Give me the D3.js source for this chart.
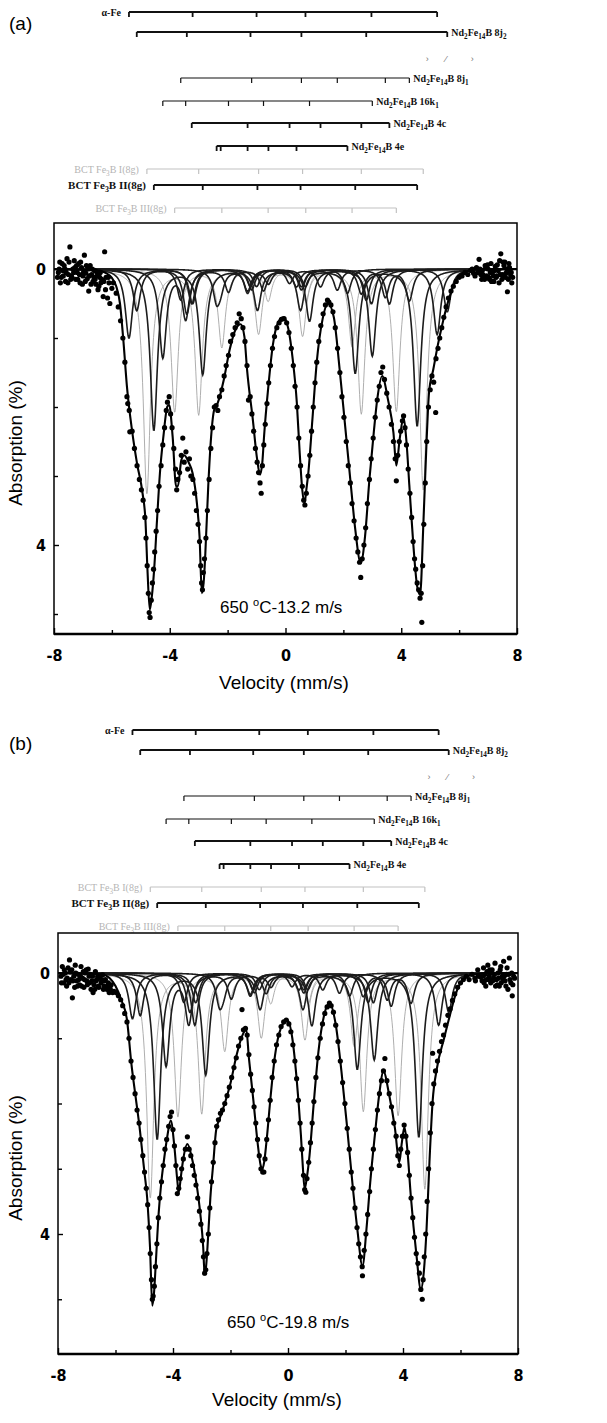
<!DOCTYPE html>
<html>
<head>
<meta charset="utf-8">
<script src="https://cdn.jsdelivr.net/npm/d3@7"></script>
<style>
  body { margin: 0; background: #fff; }
  svg { font-family: "Liberation Sans", Arial, sans-serif; }
</style>
</head>
<body>
<svg id="chart"></svg>
<script>
// Mossbauer subspectra: six line positions (mm/s)
const sites = ["aFe", "j2", "j1", "k1", "c", "e", "bct1", "bct2", "bct3"];
const siteLabels = ["α-Fe", "Nd_2Fe_14B 8j_2", "Nd_2Fe_14B 8j_1", "Nd_2Fe_14B 16k_1",
  "Nd_2Fe_14B 4c", "Nd_2Fe_14B 4e", "BCT Fe_3B I(8g)", "BCT Fe_3B  II(8g)", "BCT Fe_3B III(8g)"];
const siteLines = [
  [-5.41, -3.21, -1.0, 0.69, 2.97, 5.24],
  [-5.14, -3.41, -1.21, 0.55, 2.79, 5.59],
  [-3.62, -1.17, 0.55, 1.79, 3.45, 4.28],
  [-4.24, -3.45, -1.97, -0.76, 0.83, 3.0],
  [-3.24, -1.31, 0.14, 1.21, 2.62, 3.59],
  [-2.38, -2.24, -1.31, -0.59, 0.38, 2.14],
  [-4.79, -3.0, -0.93, 0.59, 2.62, 4.76],
  [-4.55, -2.86, -0.97, 0.52, 2.41, 4.55],
  [-3.83, -2.2, -0.6, 0.7, 2.3, 3.83]
];
// line depths (%) per site, panel (a) and (b)
const depthsA = [
  [1.0, 0.5, 0.25, 0.25, 0.5, 0.95],
  [0.6, 0.65, 0.25, 0.3, 0.45, 0.62],
  [0.45, 0.3, 0.25, 0.3, 0.4, 0.45],
  [1.27, 0.7, 0.32, 0.3, 0.75, 1.26],
  [0.5, 0.35, 0.2, 0.25, 0.35, 0.5],
  [0.42, 0.2, 0.3, 0.2, 0.25, 0.35],
  [3.25, 2.09, 0.92, 0.95, 2.08, 3.19],
  [2.33, 1.51, 0.58, 0.58, 1.5, 2.27],
  [2.07, 1.12, 0.45, 0.45, 1.1, 2.06]
];
const depthsB = [
  [0.7, 0.45, 0.25, 0.25, 0.45, 0.8],
  [0.65, 0.6, 0.25, 0.3, 0.45, 0.6],
  [0.45, 0.3, 0.25, 0.3, 0.4, 0.45],
  [1.41, 0.75, 0.38, 0.3, 0.8, 1.33],
  [0.8, 0.35, 0.2, 0.25, 0.35, 0.5],
  [0.44, 0.2, 0.3, 0.2, 0.25, 0.35],
  [3.44, 2.13, 0.97, 1.0, 2.1, 3.3],
  [2.54, 1.54, 0.54, 0.54, 1.46, 2.51],
  [2.2, 1.18, 0.45, 0.45, 1.1, 2.18]
];
const halfWidth = 0.15; // HWHM of every line, mm/s

// stray marks under the 8j2 stick
const strayMarks = [[4.9, "›"], [5.55, "⁄"], [6.45, "›"]];

// total fit, [velocity, absorption]
const fitA = [[-8, 0], [-6.5, 0.02], [-6.2, 0.06], [-6.0, 0.13], [-5.85, 0.25], [-5.72, 0.5],
  [-5.6, 1.05], [-5.48, 1.7], [-5.3, 2.35], [-5.13, 2.82], [-4.94, 3.25], [-4.84, 3.64], [-4.77, 4.36],
  [-4.69, 4.94], [-4.62, 4.75], [-4.54, 4.36], [-4.44, 3.64], [-4.34, 2.96], [-4.22, 2.43], [-4.08, 1.99],
  [-4.02, 1.97], [-3.9, 2.43], [-3.78, 3.15], [-3.72, 3.15], [-3.6, 2.77], [-3.5, 2.7], [-3.35, 2.8],
  [-3.21, 2.96], [-3.06, 3.4], [-2.97, 3.88], [-2.89, 4.7], [-2.82, 4.5], [-2.77, 4.12], [-2.67, 3.15],
  [-2.57, 2.43], [-2.47, 2.05], [-2.35, 1.95], [-2.13, 1.6], [-1.93, 1.17], [-1.73, 0.88], [-1.55, 0.8],
  [-1.42, 0.98], [-1.33, 1.45], [-1.13, 2.18], [-0.98, 2.76], [-0.88, 2.98], [-0.8, 2.8], [-0.74, 2.42],
  [-0.59, 1.69], [-0.44, 1.11], [-0.25, 0.77], [-0.07, 0.7], [0.1, 0.87], [0.25, 1.31], [0.39, 1.93],
  [0.49, 2.66], [0.58, 3.2], [0.66, 3.39], [0.72, 3.2], [0.79, 2.95], [0.93, 2.18], [1.08, 1.35],
  [1.28, 0.73], [1.47, 0.5], [1.67, 0.7], [1.87, 1.45], [2.06, 2.27], [2.26, 3.14], [2.41, 3.77],
  [2.6, 4.26], [2.75, 3.87], [2.9, 3.05], [3.05, 2.37], [3.17, 1.89], [3.34, 1.55], [3.54, 1.89],
  [3.73, 2.37], [3.83, 2.85], [3.95, 2.45], [4.08, 2.15], [4.18, 2.5], [4.28, 3.14], [4.42, 4.01],
  [4.55, 4.6], [4.65, 4.72], [4.77, 3.63], [4.86, 2.66], [4.96, 1.79], [5.11, 1.45], [5.26, 1.11],
  [5.41, 0.82], [5.6, 0.5], [5.8, 0.25], [6.0, 0.1], [6.3, 0.03], [6.8, 0], [8, 0]];

const fitB = [[-8, 0], [-6.5, 0.02], [-6.2, 0.08], [-6.0, 0.2], [-5.8, 0.41], [-5.6, 0.72], [-5.45, 1.38],
  [-5.3, 1.9], [-5.15, 2.41], [-5.0, 3.03], [-4.9, 3.44], [-4.8, 4.2], [-4.72, 5.1], [-4.66, 4.9],
  [-4.6, 4.46], [-4.5, 3.69], [-4.4, 3.18], [-4.3, 2.82], [-4.2, 2.51], [-4.08, 2.26], [-3.95, 2.67],
  [-3.85, 3.18], [-3.8, 3.36], [-3.72, 3.1], [-3.65, 2.87], [-3.5, 2.62], [-3.35, 2.82], [-3.2, 3.18],
  [-3.05, 3.69], [-2.95, 4.2], [-2.9, 4.62], [-2.85, 4.5], [-2.8, 4.2], [-2.7, 3.44], [-2.6, 2.92],
  [-2.5, 2.41], [-2.35, 2.2], [-2.2, 2.0], [-2.0, 1.69], [-1.8, 1.28], [-1.6, 0.97], [-1.45, 0.87],
  [-1.36, 1.3], [-1.2, 1.97], [-1.06, 2.59], [-0.95, 2.95], [-0.9, 3.0], [-0.83, 2.9], [-0.75, 2.59],
  [-0.6, 1.87], [-0.45, 1.26], [-0.25, 0.85], [-0.02, 0.72], [0.15, 1.0], [0.3, 1.62], [0.45, 2.49],
  [0.52, 3.0], [0.58, 3.31], [0.65, 3.15], [0.75, 2.79], [0.9, 1.97], [1.06, 1.2], [1.26, 0.64],
  [1.44, 0.46], [1.66, 0.79], [1.86, 1.51], [2.06, 2.38], [2.26, 3.31], [2.41, 3.92], [2.59, 4.49],
  [2.73, 3.92], [2.86, 3.21], [3.02, 2.49], [3.17, 1.87], [3.32, 1.51], [3.52, 1.87], [3.72, 2.38],
  [3.87, 2.9], [3.96, 2.6], [4.05, 2.36], [4.15, 2.7], [4.27, 3.41], [4.47, 4.33], [4.62, 4.85],
  [4.72, 4.6], [4.82, 3.92], [4.92, 2.9], [5.03, 1.97], [5.18, 1.46], [5.43, 1.0], [5.63, 0.65],
  [5.85, 0.3], [6.1, 0.1], [6.5, 0.02], [7, 0], [8, 0]];

// measured points, [velocity, absorption]
const dotsA = [[-7.85, 0.05], [-7.8, -0.1], [-7.75, 0.12], [-7.7, 0.02], [-7.65, -0.05], [-7.6, 0.18],
  [-7.55, -0.15], [-7.5, 0.08], [-7.45, -0.32], [-7.4, 0.1], [-7.35, 0.0], [-7.3, -0.12], [-7.25, 0.15],
  [-7.2, 0.05], [-7.15, -0.08], [-7.1, 0.2], [-7.05, -0.02], [-7.0, 0.1], [-6.95, -0.2], [-6.9, 0.06],
  [-6.85, 0.14], [-6.8, 0.32], [-6.75, -0.05], [-6.7, 0.08], [-6.65, 0.18], [-6.6, 0.02], [-6.55, 0.22],
  [-6.5, 0.1], [-6.45, 0.25], [-6.4, 0.05], [-6.35, 0.15], [-6.3, 0.4], [-6.25, -0.25], [-6.2, 0.12],
  [-6.15, 0.42], [-6.1, 0.2], [-6.07, 0.5], [-6.0, 0.28], [-7.78, 0.2], [-7.62, 0.0], [-7.42, 0.15],
  [-7.22, -0.05], [-7.02, 0.22], [-6.82, 0.0], [-6.62, 0.12],
  [-7.88, 0.12], [-7.82, 0.0], [-7.72, -0.08], [-7.68, 0.1], [-7.58, 0.05], [-7.52, 0.2], [-7.48, -0.1],
  [-7.38, 0.12], [-7.32, 0.05], [-7.28, -0.02], [-7.18, 0.15], [-7.12, 0.08], [-7.08, -0.1], [-6.98, 0.05],
  [-6.92, 0.18], [-6.88, -0.05], [-6.78, 0.1], [-6.72, 0.22], [-6.68, 0.0], [-6.58, 0.15], [-6.52, 0.05],
  [-6.48, 0.3], [-6.42, 0.12], [-6.38, 0.2], [-6.28, 0.18], [-6.22, 0.3], [-6.12, 0.12],
  [-5.95, 0.2], [-5.85, 0.35], [-5.78, 0.55], [-5.7, 0.75], [-5.62, 1.0], [-5.55, 1.35], [-5.48, 1.85],
  [-5.45, 1.95], [-5.4, 2.05], [-5.38, 2.36], [-5.3, 2.35], [-5.22, 2.6], [-5.13, 2.85], [-5.05, 3.05],
  [-4.98, 3.2], [-4.92, 3.35], [-4.86, 3.6], [-4.82, 3.9], [-4.78, 4.3], [-4.74, 4.7], [-4.71, 4.98],
  [-4.68, 5.05], [-4.64, 4.8], [-4.6, 4.55], [-4.56, 4.35], [-4.52, 4.1], [-4.47, 3.8], [-4.42, 3.5],
  [-4.37, 3.15], [-4.3, 2.85], [-4.24, 2.55], [-4.18, 2.3], [-4.12, 2.05], [-4.08, 1.93], [-4.02, 1.85],
  [-3.97, 2.1], [-3.92, 2.3], [-3.86, 2.6], [-3.8, 2.9], [-3.76, 3.2], [-3.72, 3.05], [-3.66, 2.95],
  [-3.6, 2.7], [-3.55, 2.45], [-3.5, 2.8], [-3.44, 2.65], [-3.38, 2.9], [-3.32, 2.75], [-3.27, 3.0],
  [-3.2, 3.05], [-3.14, 3.25], [-3.08, 3.5], [-3.02, 3.7], [-2.97, 3.95], [-2.93, 4.3], [-2.9, 4.55],
  [-2.87, 4.65], [-2.84, 4.4], [-2.8, 4.2], [-2.75, 3.9], [-2.7, 3.5], [-2.64, 3.05], [-2.58, 2.6],
  [-2.52, 2.3], [-2.46, 2.0], [-2.4, 1.98], [-2.34, 2.05], [-2.28, 1.85], [-2.2, 1.75], [-2.12, 1.55],
  [-2.05, 1.4], [-1.97, 1.25], [-1.9, 1.05], [-1.82, 0.95], [-1.74, 0.85], [-1.67, 0.78], [-1.6, 0.65],
  [-1.53, 0.72], [-1.47, 0.85], [-1.4, 1.05], [-1.33, 1.4], [-1.28, 1.9], [-1.22, 1.85], [-1.16, 2.1],
  [-1.1, 2.35], [-1.04, 2.6], [-0.98, 2.8], [-0.93, 2.95], [-0.88, 3.1], [-0.84, 3.25], [-0.8, 2.85],
  [-0.75, 2.55], [-0.7, 2.25], [-0.64, 1.95], [-0.58, 1.65], [-0.52, 1.4], [-0.45, 1.15], [-0.38, 0.98],
  [-0.3, 0.85], [-0.22, 0.78], [-0.14, 0.73], [-0.05, 0.72], [0.04, 0.78], [0.12, 0.92], [0.2, 1.15],
  [0.27, 1.4], [0.33, 1.7], [0.4, 2.0], [0.46, 2.45], [0.52, 2.85], [0.58, 3.15], [0.63, 3.35],
  [0.67, 3.42], [0.72, 3.25], [0.78, 3.0], [0.84, 2.7], [0.9, 2.35], [0.96, 2.0], [1.02, 1.65],
  [1.08, 1.35], [1.15, 1.05], [1.22, 0.82], [1.3, 0.65], [1.38, 0.52], [1.45, 0.45], [1.5, 0.48],
  [1.57, 0.52], [1.64, 0.62], [1.72, 0.85], [1.8, 1.15], [1.88, 1.5], [1.95, 1.85], [2.02, 2.15],
  [2.1, 2.5], [2.17, 2.85], [2.24, 3.1], [2.3, 3.4], [2.37, 3.65], [2.44, 3.9], [2.5, 4.1], [2.56, 4.25],
  [2.6, 4.47], [2.65, 4.2], [2.71, 4.0], [2.77, 3.75], [2.83, 3.4], [2.9, 3.05], [2.96, 2.75],
  [3.03, 2.45], [3.1, 2.15], [3.17, 1.9], [3.24, 1.7], [3.3, 1.5], [3.36, 1.42], [3.42, 1.6], [3.5, 1.8],
  [3.58, 2.0], [3.66, 2.25], [3.73, 2.5], [3.79, 2.75], [3.83, 3.07], [3.88, 2.7], [3.93, 2.5],
  [3.98, 2.35], [4.04, 2.2], [4.08, 2.13], [4.13, 2.3], [4.18, 2.55], [4.24, 2.9], [4.3, 3.25],
  [4.36, 3.6], [4.41, 3.95], [4.46, 4.2], [4.5, 4.35], [4.55, 4.55], [4.6, 4.65], [4.65, 4.77],
  [4.69, 4.7], [4.71, 5.12], [4.74, 4.3], [4.78, 3.7], [4.83, 3.1], [4.88, 2.5], [4.94, 2.0], [5.0, 1.75],
  [5.06, 1.55], [5.12, 1.64], [5.19, 2.08], [5.2, 1.3], [5.27, 1.15], [5.33, 1.0], [5.4, 0.85],
  [5.47, 0.7], [5.55, 0.55], [5.63, 0.42], [5.72, 0.32], [5.8, 0.25], [5.9, 0.18], [6.0, 0.12],
  [6.1, 0.1], [6.2, 0.05], [6.3, 0.08], [6.4, 0.02], [6.5, 0.06], [6.6, -0.02], [6.65, 0.05],
  [6.69, -0.14], [6.75, 0.08], [6.8, 0.02], [6.85, 0.12], [6.9, -0.05], [6.95, 0.1], [7.0, 0.0],
  [7.05, 0.15], [7.1, -0.08], [7.15, 0.05], [7.2, 0.18], [7.25, -0.04], [7.3, 0.1], [7.35, 0.02],
  [7.4, -0.12], [7.44, -0.22], [7.5, 0.08], [7.55, -0.05], [7.6, 0.12], [7.65, 0.0], [7.67, 0.33],
  [7.72, -0.08], [7.78, 0.1], [7.82, 0.2], [6.78, 0.15], [6.98, -0.06], [7.18, 0.1], [7.38, 0.2],
  [7.58, -0.1], [7.75, 0.05],
  [6.72, 0.0], [6.82, 0.08], [6.88, 0.15], [6.92, -0.02], [7.02, 0.12], [7.08, 0.05], [7.12, 0.18],
  [7.22, 0.02], [7.28, 0.12], [7.32, -0.06], [7.42, 0.08], [7.48, 0.15], [7.52, -0.1], [7.62, 0.06],
  [7.7, 0.15], [7.74, -0.02], [7.8, 0.05], [7.85, 0.12], [6.55, 0.1], [6.45, 0.0]];

const dotsB = [[-7.9, 0.05], [-7.85, -0.1], [-7.8, 0.15], [-7.75, 0.0], [-7.7, 0.2], [-7.65, -0.08],
  [-7.6, -0.2], [-7.55, 0.1], [-7.5, 0.38], [-7.45, 0.05], [-7.4, -0.12], [-7.35, 0.12], [-7.3, 0.02],
  [-7.25, 0.18], [-7.2, -0.1], [-7.15, 0.08], [-7.1, 0.22], [-7.05, 0.0], [-7.0, 0.12], [-6.95, -0.06],
  [-6.9, 0.15], [-6.85, 0.25], [-6.8, 0.05], [-6.75, 0.18], [-6.7, -0.02], [-6.65, 0.1], [-6.6, 0.2],
  [-6.55, 0.08], [-6.5, 0.15], [-6.45, 0.03], [-6.4, 0.2], [-6.35, 0.1], [-6.3, 0.25], [-6.25, 0.15],
  [-6.2, 0.22], [-6.15, 0.18], [-6.1, 0.3], [-6.05, 0.28], [-7.72, 0.1], [-7.52, -0.05], [-7.32, 0.2],
  [-7.12, -0.02], [-6.92, 0.05], [-6.72, 0.25],
  [-7.88, 0.15], [-7.82, 0.02], [-7.78, -0.05], [-7.68, 0.08], [-7.62, 0.15], [-7.58, -0.02],
  [-7.48, 0.12], [-7.42, 0.22], [-7.38, 0.0], [-7.28, 0.1], [-7.22, 0.05], [-7.18, 0.2], [-7.08, 0.1],
  [-7.02, -0.05], [-6.98, 0.18], [-6.88, 0.02], [-6.82, 0.12], [-6.78, 0.3], [-6.68, 0.12], [-6.62, 0.05],
  [-6.58, 0.22], [-6.48, 0.1], [-6.42, 0.25], [-6.38, 0.12], [-6.28, 0.2], [-6.22, 0.3], [-6.18, 0.25],
  [-5.98, 0.3], [-5.9, 0.35], [-5.82, 0.41], [-5.75, 0.5], [-5.68, 0.62], [-5.6, 0.75], [-5.53, 1.0],
  [-5.46, 1.35], [-5.39, 1.6], [-5.32, 1.85], [-5.25, 2.1], [-5.18, 2.3], [-5.12, 2.55], [-5.05, 2.8],
  [-4.99, 3.05], [-4.93, 3.3], [-4.88, 3.55], [-4.83, 3.9], [-4.79, 4.3], [-4.75, 4.7], [-4.72, 5.0],
  [-4.69, 4.95], [-4.65, 4.8], [-4.61, 4.5], [-4.56, 4.15], [-4.51, 3.75], [-4.46, 3.45], [-4.4, 3.2],
  [-4.34, 2.95], [-4.28, 2.7], [-4.22, 2.55], [-4.15, 2.35], [-4.1, 2.2], [-4.05, 2.13], [-4.0, 2.4],
  [-3.95, 2.65], [-3.9, 2.95], [-3.85, 3.38], [-3.8, 3.3], [-3.75, 3.15], [-3.7, 3.0], [-3.64, 2.85],
  [-3.57, 2.7], [-3.5, 2.51], [-3.44, 2.7], [-3.38, 2.8], [-3.32, 2.95], [-3.26, 3.1], [-3.2, 3.25],
  [-3.14, 3.45], [-3.08, 3.65], [-3.03, 3.85], [-2.98, 4.1], [-2.94, 4.35], [-2.9, 4.6], [-2.86, 4.55],
  [-2.82, 4.3], [-2.77, 4.0], [-2.72, 3.6], [-2.66, 3.2], [-2.6, 2.9], [-2.54, 2.6], [-2.48, 2.35],
  [-2.42, 2.25], [-2.35, 2.15], [-2.28, 2.1], [-2.2, 2.0], [-2.12, 1.88], [-2.04, 1.75], [-1.96, 1.6],
  [-1.88, 1.45], [-1.8, 1.3], [-1.72, 1.12], [-1.64, 1.0], [-1.6, 0.56], [-1.55, 0.87], [-1.48, 0.85],
  [-1.42, 0.95], [-1.36, 1.25], [-1.3, 1.55], [-1.24, 1.8], [-1.18, 2.05], [-1.12, 2.3], [-1.06, 2.55],
  [-1.0, 2.8], [-0.94, 3.0], [-0.88, 3.05], [-0.84, 3.05], [-0.8, 2.85], [-0.74, 2.55], [-0.68, 2.25],
  [-0.62, 1.95], [-0.55, 1.6], [-0.48, 1.35], [-0.4, 1.1], [-0.32, 0.95], [-0.24, 0.82], [-0.15, 0.75],
  [-0.06, 0.72], [0.03, 0.78], [0.1, 0.9], [0.17, 1.1], [0.24, 1.35], [0.3, 1.62], [0.36, 1.95],
  [0.42, 2.3], [0.48, 2.7], [0.54, 3.1], [0.58, 3.32], [0.62, 3.36], [0.66, 3.15], [0.72, 2.9],
  [0.78, 2.6], [0.84, 2.3], [0.9, 1.97], [0.97, 1.6], [1.04, 1.3], [1.12, 1.0], [1.2, 0.78], [1.28, 0.62],
  [1.36, 0.52], [1.44, 0.46], [1.5, 0.5], [1.58, 0.6], [1.66, 0.8], [1.74, 1.05], [1.82, 1.35],
  [1.9, 1.68], [1.98, 2.0], [2.06, 2.38], [2.13, 2.7], [2.2, 3.05], [2.26, 3.3], [2.33, 3.6], [2.4, 3.9],
  [2.46, 4.15], [2.52, 4.35], [2.58, 4.5], [2.59, 4.64], [2.65, 4.25], [2.71, 4.0], [2.77, 3.7],
  [2.84, 3.35], [2.9, 3.0], [2.97, 2.7], [3.04, 2.4], [3.11, 2.1], [3.18, 1.85], [3.25, 1.65], [3.32, 1.5],
  [3.37, 1.31], [3.44, 1.65], [3.52, 1.85], [3.6, 2.05], [3.68, 2.3], [3.76, 2.5], [3.82, 2.8],
  [3.87, 2.95], [3.92, 2.7], [3.98, 2.5], [4.04, 2.33], [4.1, 2.5], [4.16, 2.75], [4.22, 3.1],
  [4.28, 3.45], [4.34, 3.75], [4.4, 4.05], [4.46, 4.3], [4.52, 4.45], [4.57, 4.6], [4.62, 4.85],
  [4.67, 5.0], [4.7, 4.7], [4.74, 4.35], [4.79, 4.0], [4.84, 3.5], [4.89, 3.0], [4.95, 2.45], [5.01, 2.0],
  [5.03, 1.23], [5.07, 1.7], [5.13, 1.5], [5.2, 1.35], [5.27, 1.2], [5.34, 1.05], [5.41, 0.95],
  [5.48, 0.8], [5.56, 0.65], [5.64, 0.55], [5.72, 0.42], [5.8, 0.32], [5.9, 0.22], [6.0, 0.15],
  [6.1, 0.1], [6.2, 0.05], [6.3, 0.1], [6.4, 0.02], [6.5, 0.08], [6.6, -0.05], [6.7, 0.06], [6.75, 0.12],
  [6.8, -0.08], [6.85, 0.02], [6.9, 0.1], [6.95, -0.12], [7.0, 0.05], [7.05, 0.15], [7.1, -0.05],
  [7.15, 0.08], [7.2, -0.15], [7.25, 0.1], [7.3, 0.0], [7.35, 0.2], [7.4, -0.1], [7.45, 0.05],
  [7.5, -0.18], [7.55, 0.12], [7.6, 0.02], [7.65, 0.25], [7.7, -0.23], [7.75, 0.15], [7.8, 0.35],
  [7.85, 0.05], [6.88, 0.2], [7.08, 0.0], [7.28, 0.18], [7.48, 0.1], [7.68, 0.02],
  [6.78, 0.05], [6.82, 0.15], [6.92, -0.02], [6.98, 0.1], [7.02, -0.05], [7.12, 0.12], [7.18, 0.02],
  [7.22, 0.2], [7.32, 0.08], [7.38, -0.05], [7.42, 0.15], [7.52, 0.05], [7.58, 0.2], [7.62, -0.08],
  [7.72, 0.1], [7.78, 0.0], [7.82, 0.18], [7.88, 0.08], [6.62, 0.05], [6.52, 0.12]];

const xMajor = [-8, -4, 0, 4, 8];
const xMinor = [-6, -2, 2, 6];
const yMajor = [0, 4];
const yMinor = [1, 2, 3, 5];
const panelTags = ["(a)", "(b)"];
const panelNotes = [["650 ", "o", "C-13.2 m/s"], ["650 ", "o", "C-19.8 m/s"]];

// ---------- layout ----------
const width = 607, height = 1423;
const svg = d3.select("#chart").attr("width", width).attr("height", height);

const layout = [
  { head: 0, tagY: 30, xr: [54, 517], top: 223, bottom: 634, yr: [269, 545],
    noteX: 220, noteY: 613, xTitle: [284, 689], yTitle: [22, 443], tickY: 661 },
  { head: 718, tagY: 750, xr: [58, 518], top: 933, bottom: 1354, yr: [973, 1234],
    noteX: 227, noteY: 1328, xTitle: [277, 1406], yTitle: [22, 1158], tickY: 1381 }
];
const rowY = [12, 32, 78, 101, 123, 146, 169, 185, 208];
const leftLabel = new Set(["aFe", "bct1", "bct2", "bct3"]);
const graySites = new Set(["bct1", "bct3"]);
const thinSites = new Set(["j1", "k1"]);
const serif = "'Liberation Serif', 'DejaVu Serif', serif";
const narrow = "'Liberation Sans Narrow', 'DejaVu Sans Condensed', 'Liberation Sans', sans-serif";

// text with _n subscripts
function richText(sel, s) {
  const parts = s.split(/(_\d+)/).filter((p) => p.length);
  let prevSub = false;
  parts.forEach((p) => {
    const sub = p[0] === "_";
    const t = sel.append("tspan").text(sub ? p.slice(1) : p);
    if (sub) t.attr("font-size", "0.72em").attr("dy", prevSub ? 0 : 2.5);
    else if (prevSub) t.attr("dy", -2.5);
    prevSub = sub;
  });
}

const grid = d3.range(-8, 8.0001, 0.02);

layout.forEach((L, pi) => {
  const depths = pi === 0 ? depthsA : depthsB;
  const fit = pi === 0 ? fitA : fitB;
  const dots = pi === 0 ? dotsA : dotsB;

  const x = d3.scaleLinear().domain([-8, 8]).range(L.xr);
  const y = d3.scaleLinear().domain([0, 4]).range(L.yr);
  const g = svg.append("g");

  // panel tag
  g.append("text").attr("x", 9).attr("y", L.tagY).attr("font-size", 19).text(panelTags[pi]);

  // stick diagrams
  const sticks = g.append("g");
  sites.forEach((s, i) => {
    const pos = siteLines[i];
    const yy = L.head + rowY[i];
    const gray = graySites.has(s);
    const col = gray ? "#c2c2c2" : "#111";
    const sw = gray ? 1.2 : thinSites.has(s) ? 1.2 : 1.8;
    const row = sticks.append("g").attr("stroke", col).attr("stroke-width", sw);
    row.append("line")
      .attr("x1", x(d3.min(pos))).attr("x2", x(d3.max(pos)))
      .attr("y1", yy).attr("y2", yy);
    row.selectAll("line.tk").data(pos).join("line").attr("class", "tk")
      .attr("x1", (d) => x(d)).attr("x2", (d) => x(d))
      .attr("y1", yy).attr("y2", yy + 5);

    const lab = sticks.append("text")
      .style("font-family", serif)
      .attr("font-weight", gray ? "normal" : "bold")
      .attr("font-size", s === "bct2" ? 11 : 10)
      .attr("fill", gray ? "#b5b5b5" : "#111")
      .attr("y", yy + 4);
    if (leftLabel.has(s)) lab.attr("text-anchor", "end").attr("x", x(d3.min(pos)) - 8);
    else lab.attr("x", x(d3.max(pos)) + 4);
    richText(lab, siteLabels[i]);
  });
  sticks.selectAll("text.stray").data(strayMarks).join("text").attr("class", "stray")
    .attr("x", (d) => x(d[0])).attr("y", L.head + 62)
    .attr("font-size", 9).attr("fill", "#777").attr("text-anchor", "middle")
    .text((d) => d[1]);

  // plot area
  const clipId = "clip" + pi;
  g.append("clipPath").attr("id", clipId).append("rect")
    .attr("x", L.xr[0]).attr("y", L.top)
    .attr("width", L.xr[1] - L.xr[0]).attr("height", L.bottom - L.top);
  const plot = g.append("g").attr("clip-path", `url(#${clipId})`);

  const line = d3.line().x((d) => x(d[0])).y((d) => y(d[1]));
  const comps = sites.map((s, i) => ({
    s,
    pts: grid.map((v) => [v, d3.sum(siteLines[i], (c, k) => depths[i][k] / (1 + ((v - c) / halfWidth) ** 2))])
  }));
  const order = comps.filter((c) => graySites.has(c.s)).concat(comps.filter((c) => !graySites.has(c.s)));
  plot.selectAll("path.comp").data(order).join("path").attr("class", "comp")
    .attr("fill", "none")
    .attr("stroke", (d) => (graySites.has(d.s) ? "#a5a5a5" : "#1c1c1c"))
    .attr("stroke-width", (d) => (graySites.has(d.s) ? 0.9 : 1.6))
    .attr("d", (d) => line(d.pts));

  plot.append("path").datum(fit)
    .attr("fill", "none").attr("stroke", "#000").attr("stroke-width", 2.1)
    .attr("d", line.curve(d3.curveMonotoneX));

  plot.selectAll("circle").data(dots).join("circle")
    .attr("cx", (d) => x(d[0])).attr("cy", (d) => y(d[1])).attr("r", 2.6).attr("fill", "#000");

  // frame
  g.append("rect").attr("x", L.xr[0]).attr("y", L.top)
    .attr("width", L.xr[1] - L.xr[0]).attr("height", L.bottom - L.top)
    .attr("fill", "none").attr("stroke", "#000").attr("stroke-width", 1.5);
  g.append("line").attr("x1", L.xr[0]).attr("x2", L.xr[1]).attr("y1", L.bottom).attr("y2", L.bottom)
    .attr("stroke", "#000").attr("stroke-width", 2.5);

  // axes
  const xa = g.append("g").attr("transform", `translate(0,${L.bottom})`)
    .call(d3.axisBottom(x).tickValues(xMajor).tickSize(-6).tickFormat((d) => String(d)));
  g.append("g").attr("transform", `translate(0,${L.bottom})`)
    .call(d3.axisBottom(x).tickValues(xMinor).tickSize(-4).tickFormat(""));
  const ya = g.append("g").attr("transform", `translate(${L.xr[0]},0)`)
    .call(d3.axisLeft(y).tickValues(yMajor).tickSize(-5).tickPadding(8).tickFormat((d) => String(d)));
  g.append("g").attr("transform", `translate(${L.xr[0]},0)`)
    .call(d3.axisLeft(y).tickValues(yMinor).tickSize(-4).tickFormat(""));
  g.selectAll(".domain").remove();
  g.selectAll(".tick line").attr("stroke", "#000").attr("stroke-width", 1.4);
  [xa, ya].forEach((a) => a.selectAll("text")
    .style("font-family", narrow).attr("font-weight", "bold").attr("font-size", 16).attr("fill", "#000"));
  xa.selectAll("text").attr("y", L.tickY - L.bottom).attr("dy", null);

  // titles
  g.append("text").attr("x", L.xTitle[0]).attr("y", L.xTitle[1]).attr("text-anchor", "middle")
    .attr("font-size", 19).text("Velocity (mm/s)");
  g.append("text").attr("transform", `translate(${L.yTitle[0]},${L.yTitle[1]}) rotate(-90)`)
    .attr("text-anchor", "middle").attr("font-size", 19).text("Absorption (%)");

  // sample note
  const note = g.append("text").attr("x", L.noteX).attr("y", L.noteY).attr("font-size", 17);
  const np = panelNotes[pi];
  note.append("tspan").text(np[0]);
  note.append("tspan").attr("font-size", 11).attr("dy", -7).text(np[1]);
  note.append("tspan").attr("dy", 7).text(np[2]);
});
</script>
</body>
</html>
